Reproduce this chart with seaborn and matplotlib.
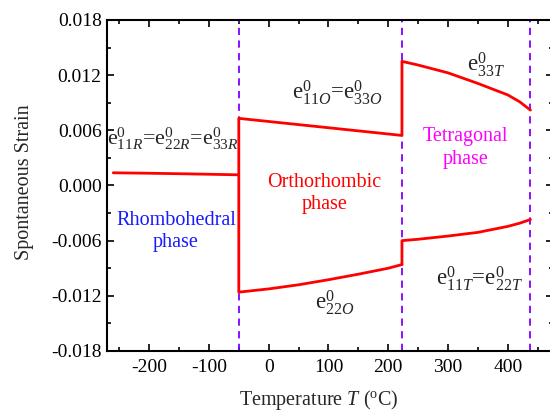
import numpy as np
import pandas as pd
import matplotlib
matplotlib.use("Agg")
import matplotlib.pyplot as plt
from matplotlib.ticker import MultipleLocator, FuncFormatter
import seaborn as sns

# Phase-transition temperatures (°C): R->O, O->T, T->C
transition_temps = [-50, 223, 438]

# Rhombohedral branch: e11R = e22R = e33R
temp_r = [-260, -200, -150, -100, -50]
e_r = [0.00138, 0.00133, 0.00128, 0.00122, 0.00116]

# Orthorhombic branches
temp_o = [-50, 0, 50, 100, 150, 200, 223]
e_o_upper = [0.0073, 0.00696, 0.00662, 0.00628, 0.00594, 0.0056, 0.00544]       # e11O = e33O
e_o_lower = [-0.0116, -0.01125, -0.0108, -0.01025, -0.00965, -0.0090, -0.0086]  # e22O

# Tetragonal branches
temp_t = [223, 250, 300, 350, 400, 420, 438]
e_t_upper = [0.0135, 0.0131, 0.01225, 0.0111, 0.00985, 0.0091, 0.0082]          # e33T
e_t_lower = [-0.0060, -0.00585, -0.0055, -0.0051, -0.00445, -0.0041, -0.0037]   # e11T = e22T

x_ticks = [-200, -100, 0, 100, 200, 300, 400]
y_ticks = [-0.018, -0.012, -0.006, 0.000, 0.006, 0.012, 0.018]

# Connected strain paths (vertical jumps at the transitions come from the branch ends)
paths = [
    (temp_r, e_r),
    (temp_o[::-1] + temp_o + temp_t, e_o_lower[::-1] + e_o_upper + e_t_upper),
    ([temp_o[-1]] + temp_t, [e_o_lower[-1]] + e_t_lower),
]
frames = []
for i, (t, e) in enumerate(paths):
    frames.append(pd.DataFrame({"T": t, "strain": e, "path": i, "order": range(len(t))}))
df = pd.concat(frames, ignore_index=True)

sns.set_theme(style="ticks")
plt.rcParams["font.family"] = ["Liberation Serif", "DejaVu Serif"]
plt.rcParams["mathtext.fontset"] = "custom"
plt.rcParams["mathtext.rm"] = "Liberation Serif"
plt.rcParams["mathtext.it"] = "Liberation Serif:italic"
plt.rcParams["axes.unicode_minus"] = False

fig = plt.figure(figsize=(5.5, 4.12), dpi=100)
ax = fig.add_axes([0.1951, 0.1481, 0.8096, 0.8034])

sns.lineplot(data=df, x="T", y="strain", units="path", estimator=None, sort=False,
             color="#ff0000", lw=2.0, ax=ax, legend=False)

for tt in transition_temps:
    ax.axvline(tt, color="#8000ff", lw=1.3, ls=(0, (4, 3)), zorder=1)

ax.set_xlim(-270, 475)
ax.set_ylim(-0.018, 0.018)
ax.set_xticks(x_ticks)
ax.set_yticks(y_ticks)
ax.xaxis.set_minor_locator(MultipleLocator(50))
ax.yaxis.set_minor_locator(MultipleLocator(0.003))
ax.yaxis.set_major_formatter(FuncFormatter(lambda v, p: f"{v:.3f}".replace("-0.000", "0.000")))
ax.tick_params(which="both", direction="in", top=True, right=True, width=1.2,
               labelsize=14, colors="black")
ax.tick_params(which="major", length=5)
ax.tick_params(which="minor", length=3)
ax.tick_params(axis="x", pad=6)
ax.tick_params(axis="y", pad=4)
for s in ax.spines.values():
    s.set_linewidth(1.5)
    s.set_color("black")

ax.set_xlabel(r"Temperature $T$ ($^{\mathrm{o}}$C)", fontsize=14.5)
ax.set_ylabel("Spontaneous Strain", fontsize=14.5)
ax.xaxis.label.set_va("center")
ax.yaxis.label.set_va("center")
ax.xaxis.set_label_coords(0.474, -0.149)
ax.yaxis.set_label_coords(-0.185, 0.51)

efs = 16.5
ax.text(-271, 0.0051, r"$\mathrm{e}^{0}_{\mathit{11R}}$=$\mathrm{e}^{0}_{\mathit{22R}}$=$\mathrm{e}^{0}_{\mathit{33R}}$",
        fontsize=15.8, ha="left", va="center")
ax.text(115, 0.0101, r"$\mathrm{e}^{0}_{\mathit{11O}}$=$\mathrm{e}^{0}_{\mathit{33O}}$",
        fontsize=efs, ha="center", va="center")
ax.text(364, 0.0132, r"$\mathrm{e}^{0}_{\mathit{33T}}$", fontsize=efs, ha="center", va="center")
ax.text(111, -0.0127, r"$\mathrm{e}^{0}_{\mathit{22O}}$", fontsize=efs, ha="center", va="center")
ax.text(352, -0.0101, r"$\mathrm{e}^{0}_{\mathit{11T}}$=$\mathrm{e}^{0}_{\mathit{22T}}$",
        fontsize=efs, ha="center", va="center")

pfs = 14.5
ax.text(-155, -0.0050, "Rhombohedral\nphase", color="#1a1aff", fontsize=pfs,
        ha="center", va="center", linespacing=1.25)
ax.text(93, -0.0009, "Orthorhombic\nphase", color="#ff0000", fontsize=pfs,
        ha="center", va="center", linespacing=1.2)
ax.text(330, 0.0041, "Tetragonal\nphase", color="#ff00ff", fontsize=pfs,
        ha="center", va="center", linespacing=1.25)

fig.savefig("out.png", dpi=100)
